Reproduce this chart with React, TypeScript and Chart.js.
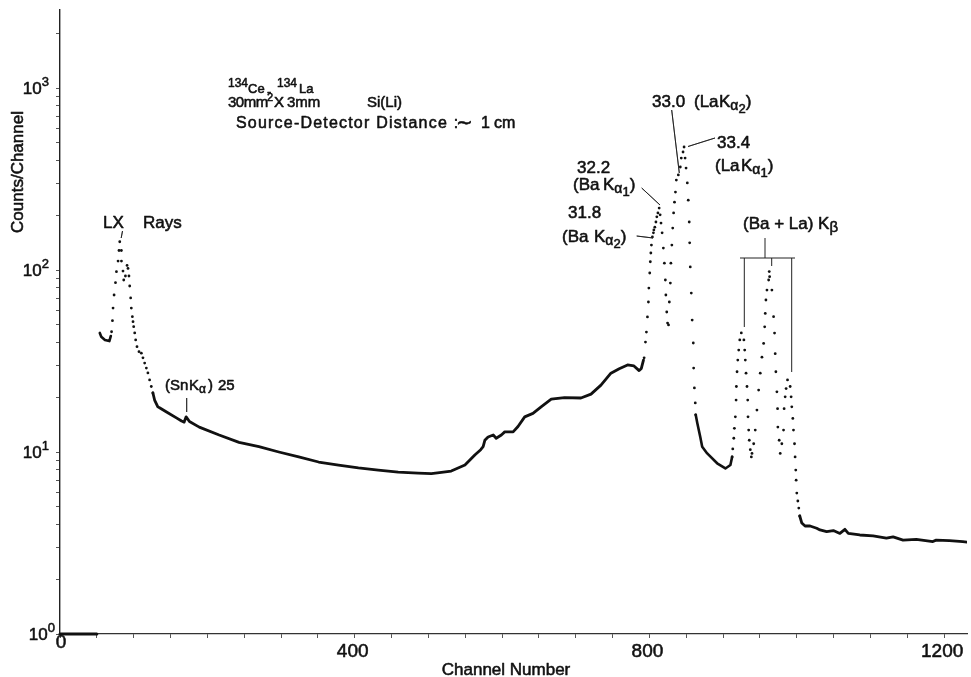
import React, { useEffect, useRef } from 'react';
import { Chart, registerables } from 'chart.js';
Chart.register(...registerables);

// ---- data: [channel, counts/channel] ----
const baselineSeg: [number, number][] = [[0, 1], [50, 1]];

const lxHook: [number, number][] = [[54, 45.1], [56, 43.0], [61, 41.3], [67, 40.7], [69, 43.4]];

const lxDots: [number, number][] = [
  [70, 45.8], [71.2, 52.7], [72, 61.8], [73.4, 72.9], [75.3, 85.2], [76.6, 97.9], [78.8, 112], [80.1, 128],
  [81.1, 143], [83.3, 128], [83.4, 112], [85.5, 98.7], [86.5, 88.1], [88.8, 92.7], [91, 106], [92.3, 102],
  [93.6, 92.7], [94.6, 81.7], [95.9, 70.2], [96.8, 61.8], [98.2, 55.4], [99.1, 52], [100, 48.8], [101.4, 45.1],
  [102.7, 41.3], [104.5, 37.9], [107.2, 35.6], [110.4, 34.9], [112.6, 32.9], [114.9, 30.8], [117.2, 28.9],
  [119.3, 27.2], [121.6, 24.9], [123.9, 22.9], [126.1, 21.1],
];

const continuum: [number, number][] = [
  [126.1, 21.1], [128.4, 19.3], [132.8, 17.7], [135.1, 17.5], [144.6, 16.6], [158, 15.4], [165, 14.8],
  [168.5, 14.6], [171.2, 15.6], [175.7, 14.7], [189, 13.7], [216, 12.4], [243, 11.3], [270, 10.7], [297, 10.0],
  [324, 9.39], [351, 8.81], [378, 8.48], [405, 8.17], [432, 7.96], [459, 7.76], [486, 7.66], [504, 7.6],
  [515, 7.7], [531, 7.86], [549.6, 8.48], [563, 9.63], [571, 10.3], [574.3, 10.7], [576.6, 11.6], [581, 12.1],
  [588, 12.4], [592, 11.9], [599, 12.4], [603.6, 12.9], [615, 12.9], [621.6, 13.8], [630.7, 15.6], [641.9, 16.3],
  [653, 17.7], [666.7, 19.5], [684.7, 19.9], [707, 19.8], [720.7, 20.8], [734.2, 23.3], [747.7, 27.1],
  [759, 28.7], [770.3, 30.1], [779, 29.7], [786, 28.0], [789, 28.8], [791.9, 32.0],
];

const kAlphaDots: [number, number][] = [
  [792.8, 32.9], [794.6, 40.2], [795.9, 45.6], [797.3, 55.2], [798.6, 66.7], [799.2, 79.6], [800.4, 96.3],
  [801.2, 111], [801.9, 124], [802.7, 137], [804, 152], [805.4, 160], [806, 166], [807.3, 172], [808.8, 183.5],
  [810, 196], [811.5, 206], [813.2, 219], [814.5, 201], [815.7, 181], [817.2, 160], [818.9, 132], [820.3, 109],
  [821.6, 88.1], [822.3, 72.9], [823.5, 58.8], [824.6, 51.1], [825.9, 49.9], [827, 66.7], [828.4, 84.8],
  [829.1, 109], [830.4, 137], [831.6, 170], [832.8, 206], [834, 236], [835.3, 268], [836.5, 312], [839.2, 333],
  [841.9, 368], [843.2, 412], [845.6, 445], [847, 474], [848.4, 412], [849.7, 363], [851.4, 301], [852.7, 242],
  [854, 183.5], [854.6, 141], [855.4, 104], [856.8, 74.7], [858, 53.1], [859.5, 39.7], [860, 28.9], [861, 22.5],
  [862.2, 18.6], [862.8, 16.0],
];

const valley: [number, number][] = [
  [862.8, 16.0], [865, 14.4], [869, 12.1], [871.6, 10.7], [878.4, 9.82], [891.9, 8.67], [903.1, 8.12],
  [909.9, 8.48], [912.2, 9.4],
];

const kBetaDots: [number, number][] = [
  [912.2, 9.4], [913.1, 10.4], [914.5, 11.9], [915.3, 13.5], [916.6, 15.6], [917.6, 19.3], [918, 22.9],
  [918.9, 27.6], [919.9, 32.0], [921.2, 36.3], [922.6, 41.3], [924.7, 45.1],
  [928.2, 41.3], [929.3, 36.3], [930.1, 32.0], [931.1, 27.1], [932.4, 22.9], [933.4, 19.3], [933.8, 15.6],
  [934.7, 13.2], [935.5, 11.6], [936.9, 10.3], [938.3, 9.4],
  [939.2, 9.82], [941.5, 11.1], [943.6, 13.2], [945.9, 17.0], [948.2, 21.9], [950.4, 27.1], [952.7, 33.2],
  [955, 39.5], [956.4, 48.7], [957.2, 57.7], [958.1, 68.4], [959.5, 77.6], [961.8, 88.1], [962.6, 98],
  [963.1, 91.9], [966.2, 77.6], [968.5, 55.4], [969.8, 45], [970.7, 34.7], [971.6, 27.6], [973, 21.4],
  [973.9, 17.3], [974.3, 13.7], [976.1, 11.6], [977.5, 9.82],
  [979.7, 11.1], [982, 13.2], [982.8, 17.3], [984.2, 20.1], [985.5, 22.3], [987.4, 24.9], [991, 22.9],
  [992.3, 20.1], [993.2, 17.7], [994.6, 15.3], [995.5, 13.2], [996.9, 11.1], [997.7, 9.4], [998.6, 7.96],
  [999.1, 7.0], [1000, 5.95], [1001.4, 5.38], [1002.7, 4.92], [1004, 4.45],
];

const tail: [number, number][] = [
  [1004, 4.45], [1006.8, 4.07], [1011.2, 3.92], [1018, 3.92], [1027, 3.81], [1031.5, 3.73], [1040.5, 3.65],
  [1049.6, 3.70], [1058.5, 3.57], [1065.3, 3.76], [1069.9, 3.57], [1085.5, 3.50], [1103.6, 3.46],
  [1121.6, 3.36], [1130.7, 3.42], [1144.2, 3.28], [1162.2, 3.31], [1184.7, 3.22], [1189.2, 3.28],
  [1207.2, 3.26], [1225.3, 3.22], [1231, 3.2],
];

const xTickLabels = [0, 400, 800, 1200];
const yDecades = [0, 1, 2, 3];
const X_MAX = 1231;
const Y_MAX = 2683;

const F = '"Liberation Sans", Arial, sans-serif';
const INK = '#111';

type Run = [string, number, number, number?];

function txt(ctx: CanvasRenderingContext2D, t: string, x: number, y: number) {
  ctx.fillText(t, x, y);
  ctx.strokeText(t, x, y);
}

function drawRuns(ctx: CanvasRenderingContext2D, x: number, y: number, items: Run[]) {
  let cx = x;
  for (const [t, size, dy, ax] of items) {
    if (ax !== undefined) cx = ax;
    ctx.font = `${size}px ${F}`;
    txt(ctx, t, cx, y + dy);
    cx += ctx.measureText(t).width;
  }
}

function line(ctx: CanvasRenderingContext2D, x1: number, y1: number, x2: number, y2: number) {
  ctx.beginPath();
  ctx.moveTo(x1, y1);
  ctx.lineTo(x2, y2);
  ctx.stroke();
}

const annotationPlugin = {
  id: 'annotations',
  beforeDraw(chart: any) {
    const ctx = chart.ctx as CanvasRenderingContext2D;
    ctx.save();
    ctx.fillStyle = '#fff';
    ctx.fillRect(0, 0, chart.width, chart.height);
    ctx.restore();
  },
  afterDraw(chart: any) {
    const ctx = chart.ctx as CanvasRenderingContext2D;
    const xs = chart.scales.x;
    const ys = chart.scales.y;
    ctx.save();
    ctx.fillStyle = INK;
    ctx.strokeStyle = INK;
    ctx.lineWidth = 0.55;
    ctx.lineJoin = 'round';
    ctx.textBaseline = 'alphabetic';
    ctx.textAlign = 'left';

    // y tick labels 10^n
    for (const d of yDecades) {
      const y = ys.getPixelForValue(Math.pow(10, d));
      const right = d === 0 ? 55 : 49;
      ctx.font = `17px ${F}`;
      const w10 = ctx.measureText('10').width;
      ctx.font = `13px ${F}`;
      const we = ctx.measureText(String(d)).width;
      const x0 = right - we - w10;
      ctx.font = `17px ${F}`;
      txt(ctx, '10', x0, y + 6);
      ctx.font = `13px ${F}`;
      txt(ctx, String(d), x0 + w10, y - 2);
    }

    // x tick labels
    ctx.textAlign = 'center';
    ctx.font = `19px ${F}`;
    for (const v of xTickLabels) {
      const x = xs.getPixelForValue(v);
      txt(ctx, String(v), v === 0 ? x + 1 : x - 2, v === 0 ? 648 : 657);
    }

    // axis titles
    ctx.font = `17px ${F}`;
    txt(ctx, 'Channel Number', 506, 675);
    ctx.save();
    ctx.translate(23, 172);
    ctx.rotate(-Math.PI / 2);
    txt(ctx, 'Counts/Channel', 0, 0);
    ctx.restore();
    ctx.textAlign = 'left';

    // title block
    drawRuns(ctx, 228, 0, [['134', 12, 87, 228], ['Ce', 13, 93, 248], ['-', 13, 96, 267], ['134', 12, 87, 277], ['La', 13, 93, 299]]);
    (ctx as any).letterSpacing = '-0.5px';
    drawRuns(ctx, 228, 107, [['30mm', 15, 0, 228]]);
    (ctx as any).letterSpacing = '0px';
    drawRuns(ctx, 228, 107, [['2', 11, -6, 267], ['X', 15, 0, 274], ['3mm', 15, 0, 287], ['Si(Li)', 15, 0, 367]]);
    (ctx as any).letterSpacing = '1.2px';
    drawRuns(ctx, 236, 128, [['Source-Detector Distance :', 16, 0]]);
    (ctx as any).letterSpacing = '0px';
    drawRuns(ctx, 236, 128, [['\u223C', 20, 1, 456], ['1', 16, 0, 481], ['cm', 16, 0, 494]]);

    // LX rays
    drawRuns(ctx, 103, 228, [['LX', 17, 0, 103], ['Rays', 17, 0, 143]]);
    line(ctx, 122.5, 231, 121.2, 238);

    // Sn K alpha
    drawRuns(ctx, 165, 390, [['(', 15, 0, 165], ['Sn', 15, 0, 170], ['K', 15, 0, 189], ['\u03B1', 12, 3], [')', 15, 0, 208], ['25', 15, 0, 218]]);
    line(ctx, 186.7, 398, 186.7, 412);

    // 33.0 (La K alpha 2)
    drawRuns(ctx, 652, 107, [['33.0', 17, 0, 652], ['(La', 17, 0, 694], ['K', 17, 0, 719], ['\u03B1', 14, 3], ['2', 13, 6], [')', 17, 0]]);
    line(ctx, 671.7, 110, 679.3, 173);

    // 33.4 (La K alpha 1)
    drawRuns(ctx, 717, 148, [['33.4', 17, 0, 717]]);
    drawRuns(ctx, 715, 171, [['(La', 17, 0, 715], ['K', 17, 0, 741], ['\u03B1', 14, 3], ['1', 13, 6], [')', 17, 0]]);
    line(ctx, 688, 146.5, 715, 138);

    // 32.2 (Ba K alpha 1)
    drawRuns(ctx, 577, 173, [['32.2', 17, 0, 577]]);
    drawRuns(ctx, 573, 190, [['(Ba', 17, 0, 573], ['K', 17, 0, 603], ['\u03B1', 14, 3], ['1', 13, 6], [')', 17, 0]]);
    line(ctx, 641.7, 188, 660, 205);

    // 31.8 (Ba K alpha 2)
    drawRuns(ctx, 568, 218, [['31.8', 17, 0, 568]]);
    drawRuns(ctx, 562, 242, [['(Ba', 17, 0, 562], ['K', 17, 0, 594], ['\u03B1', 14, 3], ['2', 13, 6], [')', 17, 0]]);
    line(ctx, 636.7, 236, 653, 238);

    // (Ba+La) K beta bracket
    drawRuns(ctx, 743, 229, [['(Ba + La) K', 17, 0, 743], ['\u03B2', 15, 3]]);
    ctx.lineWidth = 1;
    ctx.strokeStyle = '#222';
    line(ctx, 122.5, 231, 121.2, 238);
    line(ctx, 186.7, 398, 186.7, 412);
    line(ctx, 671.7, 110, 679.3, 173);
    line(ctx, 688, 146.5, 715, 138);
    line(ctx, 641.7, 188, 660, 205);
    line(ctx, 636.7, 236, 653, 238);
    line(ctx, 765, 238, 765, 258);
    line(ctx, 740, 258, 795, 258);
    line(ctx, 744.3, 258, 744.3, 327);
    line(ctx, 771.7, 258, 771.7, 266);
    line(ctx, 791.7, 258, 791.7, 372);

    ctx.restore();
  },
};

const toXY = (arr: [number, number][]) => arr.map(([x, y]) => ({ x, y }));

function lineSet(arr: [number, number][], width: number, clip?: boolean) {
  return {
    data: toXY(arr),
    showLine: true,
    borderColor: INK,
    borderWidth: width,
    pointRadius: 0,
    borderJoinStyle: 'round' as const,
    borderCapStyle: 'round' as const,
    tension: 0,
    clip: clip === false ? false : undefined,
  };
}

function dotSet(arr: [number, number][]) {
  return {
    data: toXY(arr),
    showLine: false,
    pointRadius: 1.4,
    pointBackgroundColor: INK,
    pointBorderWidth: 0,
    borderWidth: 0,
    backgroundColor: INK,
  };
}

const yTickValues: number[] = [];
for (let d = 0; d <= 3; d++) {
  for (let m = 1; m <= 9; m++) {
    const v = m * Math.pow(10, d);
    if (v <= Y_MAX) yTickValues.push(v);
  }
}

export default function App() {
  const ref = useRef<HTMLCanvasElement | null>(null);
  useEffect(() => {
    if (!ref.current) return;
    const chart = new Chart(ref.current, {
      type: 'scatter',
      data: {
        datasets: [
          lineSet(baselineSeg, 3, false) as any,
          lineSet(lxHook, 2.6) as any,
          dotSet(lxDots) as any,
          lineSet(continuum, 2.8) as any,
          dotSet(kAlphaDots) as any,
          lineSet(valley, 2.6) as any,
          dotSet(kBetaDots) as any,
          lineSet(tail, 2.8) as any,
        ],
      },
      options: {
        animation: false,
        responsive: false,
        devicePixelRatio: 1,
        events: [],
        layout: { padding: { top: 10, right: 0, bottom: 0, left: 0 } },
        plugins: { legend: { display: false }, tooltip: { enabled: false } },
        scales: {
          x: {
            type: 'linear',
            position: 'bottom',
            min: 0,
            max: X_MAX,
            afterFit: (s: any) => { s.height = 43; },
            ticks: { display: false, stepSize: 50, includeBounds: false },
            grid: { drawOnChartArea: false, drawTicks: true, tickLength: 4, color: '#555', lineWidth: 1 },
            border: { display: true, color: '#333', width: 1.2 },
          },
          y: {
            type: 'logarithmic',
            position: 'left',
            min: 1,
            max: Y_MAX,
            afterFit: (s: any) => { s.width = 60; },
            afterBuildTicks: (s: any) => { s.ticks = yTickValues.map((v) => ({ value: v })); },
            ticks: { display: false },
            grid: { drawOnChartArea: false, drawTicks: true, tickLength: 4, color: '#555', lineWidth: 1 },
            border: { display: true, color: '#222', width: 1.4 },
          },
        },
      } as any,
      plugins: [annotationPlugin],
    });
    return () => chart.destroy();
  }, []);
  return (
    <div style={{ position: 'fixed', left: 0, top: 0, width: 971, height: 677, background: '#fff' }}>
      <canvas ref={ref} width={971} height={677} style={{ width: 971, height: 677, display: 'block' }} />
    </div>
  );
}
